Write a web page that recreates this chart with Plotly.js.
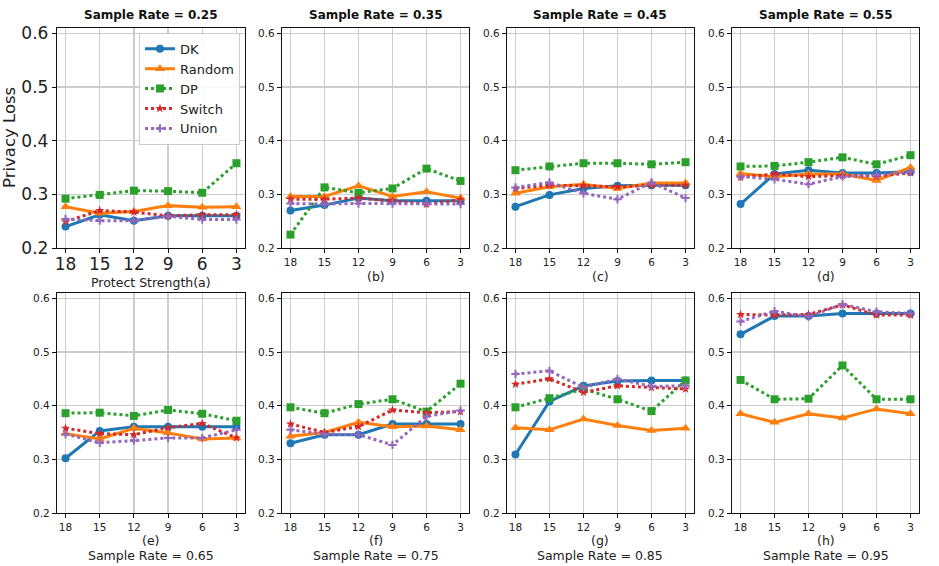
<!DOCTYPE html>
<html>
<head>
<meta charset="utf-8">
<script src="https://cdn.plot.ly/plotly-3.0.1.min.js"></script>
<style>
  body { margin: 0; background: #fff; }
  #chart { width: 939px; height: 566px; }
</style>
</head>
<body>
<div id="chart"></div>
<script>
// x axis categories (protect strength), shared by all panels
var strengths = ["18", "15", "12", "9", "6", "3"];

// one panel per sample rate
var rates = ["0.25", "0.35", "0.45", "0.55", "0.65", "0.75", "0.85", "0.95"];
var tags = ["(a)", "(b)", "(c)", "(d)", "(e)", "(f)", "(g)", "(h)"];

// privacy loss of each method, one row per panel (a..h)
var dk = [
  [0.240, 0.262, 0.251, 0.260, 0.260, 0.260],
  [0.270, 0.280, 0.293, 0.288, 0.288, 0.288],
  [0.277, 0.299, 0.311, 0.316, 0.317, 0.317],
  [0.282, 0.338, 0.345, 0.340, 0.340, 0.342],
  [0.302, 0.353, 0.361, 0.361, 0.361, 0.361],
  [0.330, 0.346, 0.346, 0.366, 0.366, 0.366],
  [0.309, 0.408, 0.437, 0.446, 0.447, 0.447],
  [0.533, 0.567, 0.567, 0.572, 0.572, 0.572]
];
var random = [
  [0.277, 0.265, 0.268, 0.279, 0.276, 0.277],
  [0.296, 0.296, 0.316, 0.296, 0.305, 0.293],
  [0.302, 0.314, 0.319, 0.311, 0.321, 0.321],
  [0.339, 0.333, 0.338, 0.338, 0.326, 0.350],
  [0.348, 0.338, 0.358, 0.349, 0.338, 0.340],
  [0.343, 0.350, 0.369, 0.361, 0.362, 0.355],
  [0.359, 0.355, 0.375, 0.363, 0.354, 0.358],
  [0.385, 0.369, 0.385, 0.377, 0.394, 0.385]
];
var dp = [
  [0.292, 0.299, 0.307, 0.306, 0.303, 0.358],
  [0.225, 0.313, 0.303, 0.311, 0.348, 0.325],
  [0.345, 0.352, 0.358, 0.358, 0.356, 0.360],
  [0.352, 0.353, 0.360, 0.369, 0.356, 0.373],
  [0.386, 0.387, 0.381, 0.392, 0.385, 0.372],
  [0.397, 0.386, 0.403, 0.412, 0.389, 0.441],
  [0.397, 0.414, 0.431, 0.412, 0.390, 0.447],
  [0.448, 0.412, 0.413, 0.475, 0.412, 0.412]
];
var switchLoss = [
  [0.249, 0.270, 0.267, 0.260, 0.262, 0.262],
  [0.291, 0.291, 0.293, 0.288, 0.282, 0.290],
  [0.311, 0.317, 0.316, 0.314, 0.317, 0.317],
  [0.332, 0.338, 0.333, 0.335, 0.334, 0.340],
  [0.358, 0.348, 0.346, 0.359, 0.367, 0.340],
  [0.366, 0.350, 0.361, 0.392, 0.387, 0.389],
  [0.440, 0.450, 0.425, 0.437, 0.434, 0.431],
  [0.570, 0.569, 0.570, 0.588, 0.569, 0.569]
];
var union = [
  [0.254, 0.251, 0.251, 0.259, 0.253, 0.253],
  [0.283, 0.282, 0.283, 0.283, 0.283, 0.282],
  [0.313, 0.322, 0.302, 0.291, 0.322, 0.293],
  [0.333, 0.328, 0.319, 0.333, 0.336, 0.342],
  [0.347, 0.331, 0.335, 0.340, 0.340, 0.355],
  [0.355, 0.347, 0.346, 0.327, 0.380, 0.391],
  [0.459, 0.465, 0.434, 0.450, 0.436, 0.437],
  [0.557, 0.576, 0.566, 0.589, 0.575, 0.572]
];

// how each method is drawn (matplotlib default colours)
var series = [
  { name: "DK", data: dk, color: "#1f77b4", dash: "solid", symbol: "circle", size: 8 },
  { name: "Random", data: random, color: "#ff7f0e", dash: "solid", symbol: "triangle-up", size: 9 },
  { name: "DP", data: dp, color: "#2ca02c", dash: "dot", symbol: "square", size: 8 },
  { name: "Switch", data: switchLoss, color: "#d62728", dash: "dot", symbol: "star", size: 7 },
  { name: "Union", data: union, color: "#9467bd", dash: "dot", symbol: "cross-thin", size: 6 }
];

// subplot boxes in paper coordinates
var xDomains = [[0.0607, 0.2609], [0.3003, 0.4995], [0.5399, 0.7391], [0.7796, 0.9787]];
var yDomains = [[0.5618, 0.9505], [0.0936, 0.4823]];

var font = "DejaVu Sans, Liberation Sans, sans-serif";
var traces = [];
var layout = {
  width: 939,
  height: 566,
  margin: { l: 0, r: 0, t: 0, b: 0 },
  paper_bgcolor: "#fff",
  plot_bgcolor: "#fff",
  font: { family: font, color: "#222" },
  showlegend: true,
  legend: {
    x: 0.148, y: 0.942, xanchor: "left", yanchor: "top",
    bgcolor: "rgba(255,255,255,0.9)",
    bordercolor: "#cccccc", borderwidth: 1,
    font: { size: 13, family: font, color: "#222" },
    tracegroupgap: 0
  },
  annotations: []
};

for (let p = 0; p < 8; p++) {
  let row = p < 4 ? 0 : 1;
  let col = p % 4;
  let suffix = p === 0 ? "" : String(p + 1);
  let big = p === 0;

  // one trace per method in this panel
  series.forEach(function (s) {
    traces.push({
      x: strengths,
      y: s.data[p],
      xaxis: "x" + suffix,
      yaxis: "y" + suffix,
      name: s.name,
      showlegend: p === 0,
      mode: "lines+markers",
      line: { color: s.color, width: 3, dash: s.dash },
      marker: {
        symbol: s.symbol,
        size: s.size,
        color: s.color,
        line: { color: s.color, width: s.symbol === "cross-thin" ? 2 : 0 }
      }
    });
  });

  let tickSize = big ? 17 : 10.5;
  layout["xaxis" + suffix] = {
    domain: xDomains[col],
    anchor: "y" + suffix,
    type: "category",
    range: [-0.25, 5.25],
    showgrid: true, gridcolor: "#cccccc", gridwidth: 1.5,
    showline: true, linecolor: "#111", linewidth: 1.2, mirror: true,
    ticks: "outside", ticklen: 4, tickcolor: "#111",
    ticklabelstandoff: big ? -4 : 0,
    tickfont: { size: tickSize, family: font, color: "#222" },
    zeroline: false, fixedrange: true
  };
  layout["yaxis" + suffix] = {
    domain: yDomains[row],
    anchor: "x" + suffix,
    range: [0.2, 0.61],
    tickvals: [0.2, 0.3, 0.4, 0.5, 0.6],
    ticktext: ["0.2", "0.3", "0.4", "0.5", "0.6"],
    showgrid: true, gridcolor: "#cccccc", gridwidth: 1.5,
    showline: true, linecolor: "#111", linewidth: 1.2, mirror: true,
    ticks: "outside", ticklen: 4, tickcolor: "#111",
    tickfont: { size: tickSize, family: font, color: "#222" },
    zeroline: false, fixedrange: true
  };

  let cx = (xDomains[col][0] + xDomains[col][1]) / 2;
  let title = "Sample Rate = " + rates[p];

  if (row === 0) {
    // title above the panel
    layout.annotations.push({
      text: "<b>" + title + "</b>", xref: "paper", yref: "paper",
      x: cx, y: 1 - 15 / 566, xanchor: "center", yanchor: "middle",
      showarrow: false, font: { size: 12, family: font, color: "#111" }
    });
    // panel tag below the ticks
    layout.annotations.push({
      text: big ? "Protect Strength" + tags[p] : tags[p], xref: "paper", yref: "paper",
      x: cx, y: 1 - (big ? 282 : 276) / 566, xanchor: "center", yanchor: "middle",
      showarrow: false, font: { size: 12.5, family: font, color: "#222" }
    });
  } else {
    // tag and sample rate below the panel
    layout.annotations.push({
      text: tags[p], xref: "paper", yref: "paper",
      x: cx, y: 1 - 540 / 566, xanchor: "center", yanchor: "middle",
      showarrow: false, font: { size: 12.5, family: font, color: "#222" }
    });
    layout.annotations.push({
      text: title, xref: "paper", yref: "paper",
      x: cx, y: 1 - 555 / 566, xanchor: "center", yanchor: "middle",
      showarrow: false, font: { size: 12.5, family: font, color: "#222" }
    });
  }
}

// y axis label on the first panel
layout.annotations.push({
  text: "Privacy Loss", xref: "paper", yref: "paper",
  x: 10 / 939, y: 1 - 138 / 566, xanchor: "center", yanchor: "middle",
  textangle: -90, showarrow: false, font: { size: 16.5, family: font, color: "#222" }
});

Plotly.newPlot("chart", traces, layout, { staticPlot: true });
</script>
</body>
</html>
